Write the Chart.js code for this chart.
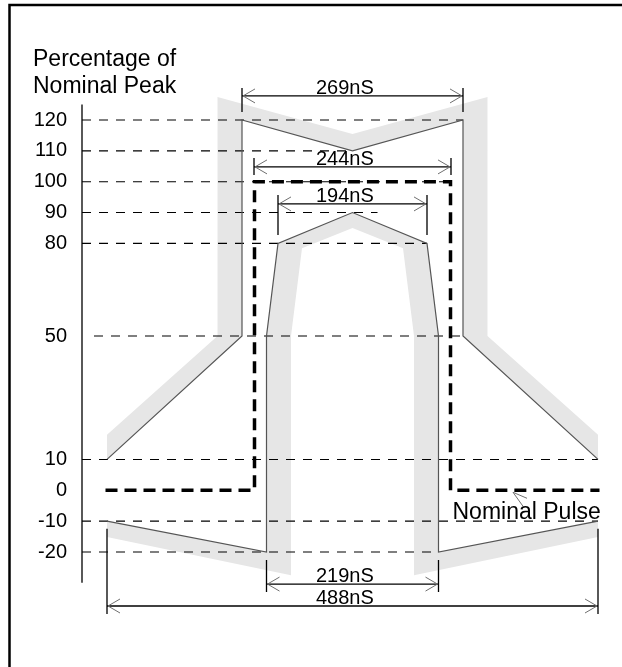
<!DOCTYPE html>
<html><head><meta charset="utf-8">
<script src="https://cdn.jsdelivr.net/npm/chart.js@4.4.0/dist/chart.umd.min.js"></script>
<style>html,body{margin:0;padding:0;background:#fff}canvas{display:block}</style>
</head><body>
<canvas id="c" width="622" height="667"></canvas>
<script>
// ---- data (x: drawing time units centred on the pulse, y: % of nominal peak) ----
const yTickValues = [120, 110, 100, 90, 80, 50, 10, 0, -10, -20];

const outerMaskX = [-245.5, -110.5, -110.5, 0, 110.5, 110.5, 245.5];
const outerMaskY = [10, 50, 120, 110, 120, 50, 10];

const innerMaskX = [-245.5, -86, -86, -74.5, 0, 74.5, 86, 86, 245.5];
const innerMaskY = [-10, -20, 50, 80, 90, 80, 50, -20, -10];

const nominalX = [-247, -98, -98, 98, 98, 247];
const nominalY = [0, 0, 100, 100, 0, 0];

const outerBandX = [-245.5, -135, -135, 0, 135, 135, 245.5, 245.5, 110.5, 110.5, 0, -110.5, -110.5, -245.5];
const outerBandY = [18, 50, 127.45, 115.5, 127.45, 50, 18, 10, 50, 120, 110, 120, 50, 10];

const innerBandX = [-245.5, -86, -86, -74.5, 0, 74.5, 86, 86, 245.5, 245.5, 61.5, 61.5, 50.5, 0, -50.5, -61.5, -61.5, -245.5];
const innerBandY = [-10, -20, 50, 80, 90, 80, 50, -20, -10, -15.1, -27.5, 50, 78.4, 85, 78.4, 50, -27.5, -15.1];

const refLevels = [120, 110, 100, 90, 80, 50, 10, -10, -20];
const refStartX = [-270.5, -270.5, -270.5, -270.5, -270.5, -258.5, -270.5, -270.5, -270.5];
const refEndX   = [110.5, 0, 98, 25, 74.5, 110.5, 245.5, 245.5, 86];

const dimLabels      = ['269nS', '244nS', '194nS', '219nS', '488nS'];
const dimFromX       = [-110.5, -98.5, -74.5, -86, -245.5];
const dimToX         = [110.5, 98.5, 74.5, 86, 245.5];
const dimLevelY      = [127.8, 104.8, 92.8, -30.4, -37.5];
const dimTickTopY    = [130.4, 107.7, 95.7, -22.6, -12.5];
const dimTickBottomY = [122.6, 102.2, 82.7, -33, -40.1];
const dimLabelX = -36.5;

const axisX = -270.5, axisTopY = 125, axisBottomY = -30;
const axisTitleLines = ['Percentage of', 'Nominal Peak'];
const pulseLabel = 'Nominal Pulse';
const pulseLeaderX = 160.5;

// ---- build datasets ----
const pts = (xs, ys) => xs.map((x, i) => ({x, y: ys[i]}));
const base = {showLine: true, pointRadius: 0, clip: false, tension: 0, fill: false};
const datasets = [];

datasets.push({...base, data: pts(outerBandX, outerBandY), fill: 'shape', backgroundColor: '#e6e6e6', borderColor: 'rgba(0,0,0,0)', borderWidth: 0, order: 20});
datasets.push({...base, data: pts(innerBandX, innerBandY), fill: 'shape', backgroundColor: '#e6e6e6', borderColor: 'rgba(0,0,0,0)', borderWidth: 0, order: 20});

refLevels.forEach((lv, i) => {
  datasets.push({...base, data: [{x: refStartX[i], y: lv}, {x: refEndX[i], y: lv}], borderColor: '#000', borderWidth: 1.1, borderDash: [9, 8], order: 10});
});

datasets.push({...base, data: [{x: axisX, y: axisTopY}, {x: axisX, y: axisBottomY}], borderColor: '#000', borderWidth: 1.3, order: 5});

datasets.push({...base, data: pts(outerMaskX, outerMaskY), borderColor: '#555', borderWidth: 1.2, order: 4});
datasets.push({...base, data: pts(innerMaskX, innerMaskY), borderColor: '#555', borderWidth: 1.2, order: 4});

datasets.push({...base, data: pts(nominalX, nominalY), borderColor: '#000', borderWidth: 3.5, borderDash: [12, 7], borderJoinStyle: 'miter', order: 3});

dimLabels.forEach((lab, i) => {
  datasets.push({...base, data: [{x: dimFromX[i], y: dimLevelY[i]}, {x: dimToX[i], y: dimLevelY[i]}], borderColor: '#000', borderWidth: 1.3, order: 2});
  datasets.push({...base, data: [{x: dimFromX[i], y: dimTickTopY[i]}, {x: dimFromX[i], y: dimTickBottomY[i]}], borderColor: '#000', borderWidth: 1.3, order: 2});
  datasets.push({...base, data: [{x: dimToX[i], y: dimTickTopY[i]}, {x: dimToX[i], y: dimTickBottomY[i]}], borderColor: '#000', borderWidth: 1.3, order: 2});
});

const FONT = '"Liberation Sans", Arial, Helvetica, sans-serif';

const decor = {
  id: 'decor',
  beforeDraw(chart) {
    const {ctx, width, height} = chart;
    ctx.save();
    ctx.fillStyle = '#fff';
    ctx.fillRect(0, 0, width, height);
    ctx.strokeStyle = '#000';
    ctx.lineWidth = 2.5;
    ctx.beginPath();
    ctx.moveTo(9.5, height + 2);
    ctx.lineTo(9.5, 5);
    ctx.lineTo(width + 2, 5);
    ctx.stroke();
    ctx.restore();
  },
  afterDraw(chart) {
    const {ctx, scales: {x, y}, chartArea} = chart;
    ctx.save();
    // arrowheads of dimension lines
    ctx.strokeStyle = '#707070';
    ctx.lineWidth = 1;
    dimLabels.forEach((lab, i) => {
      const py = y.getPixelForValue(dimLevelY[i]);
      const x1 = x.getPixelForValue(dimFromX[i]);
      const x2 = x.getPixelForValue(dimToX[i]);
      ctx.beginPath();
      ctx.moveTo(x1 + 13, py - 7); ctx.lineTo(x1 + 1, py); ctx.lineTo(x1 + 13, py + 7);
      ctx.moveTo(x2 - 13, py - 7); ctx.lineTo(x2 - 1, py); ctx.lineTo(x2 - 13, py + 7);
      ctx.stroke();
    });
    // leader to nominal pulse
    const tx = x.getPixelForValue(pulseLeaderX), ty = y.getPixelForValue(0) + 2;
    ctx.beginPath();
    ctx.moveTo(tx + 14, ty + 6); ctx.lineTo(tx, ty); ctx.lineTo(tx + 10, ty + 14);
    ctx.stroke();

    // dimension labels
    ctx.fillStyle = '#000';
    ctx.textAlign = 'left';
    ctx.textBaseline = 'alphabetic';
    ctx.font = '20px ' + FONT;
    dimLabels.forEach((lab, i) => {
      const py = y.getPixelForValue(dimLevelY[i]);
      ctx.fillText(lab, x.getPixelForValue(dimLabelX), py - 2);
    });
    // nominal pulse label
    ctx.font = '23px ' + FONT;
    ctx.fillText(pulseLabel, x.getPixelForValue(nominalX[4]) + 2, y.getPixelForValue(-10) - 2);
    // axis title
    const left = chartArea.left - 49;
    ctx.fillText(axisTitleLines[0], left, 66);
    ctx.fillText(axisTitleLines[1], left, 93);
    ctx.restore();
  }
};

new Chart(document.getElementById('c'), {
  type: 'scatter',
  data: {datasets},
  options: {
    responsive: false,
    animation: false,
    layout: {padding: {left: 0, right: 10, top: 73.71, bottom: 37.86}},
    plugins: {legend: {display: false}, tooltip: {enabled: false}},
    scales: {
      x: {type: 'linear', min: -270.5, max: 259.5, display: false},
      y: {
        type: 'linear', min: -45, max: 135,
        afterBuildTicks: s => { s.ticks = yTickValues.map(v => ({value: v})); },
        afterFit: s => { s.width = 82; },
        grid: {display: false, drawTicks: false},
        border: {display: false},
        ticks: {autoSkip: false, color: '#000', padding: 15, font: {family: FONT, size: 20}, callback: v => String(v)}
      }
    }
  },
  plugins: [decor]
});
</script>
</body></html>
